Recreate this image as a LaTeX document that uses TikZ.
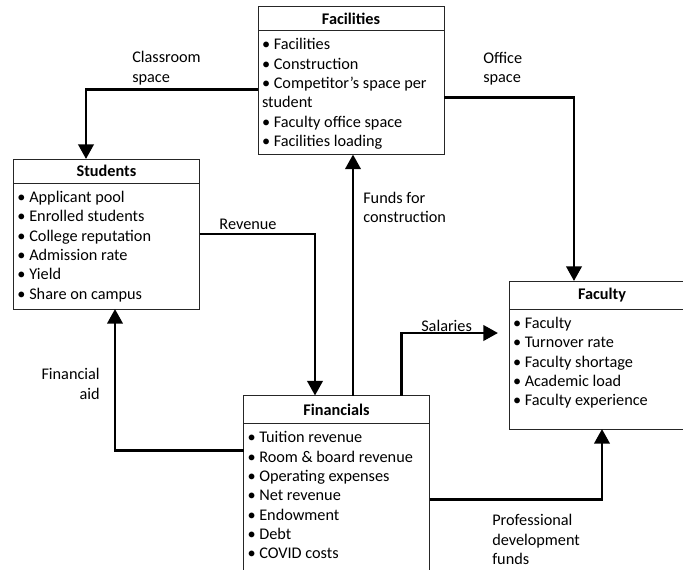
\documentclass[tikz,border=0pt]{standalone}
\usepackage{fontspec}
\setmainfont{Carlito}
\usetikzlibrary{calc,arrows.meta,positioning}

% bullet list of a box, fixed height, first baseline fixed
\newcommand{\blist}[2]{\parbox[t][#1][t]{133.5pt}{\raggedright\rule{0pt}{14.5pt}#2}}

\begin{document}
\begin{tikzpicture}[x=0.75pt,y=-0.75pt,
  every node/.style={font=\fontsize{12.2}{14.5}\selectfont},
  head/.style={draw=black!85,line width=0.7pt,minimum width=139.5pt,
    inner sep=0pt,outer sep=0pt,font=\fontsize{12.2}{14.5}\selectfont\bfseries},
  body/.style={draw=black!85,line width=0.7pt,inner xsep=3pt,inner ysep=0pt,
    outer sep=0pt},
  flow/.style={line width=2.2pt,-{Triangle[width=11.5pt,length=11pt]}},
  lbl/.style={align=left,inner sep=0pt}]
  \clip (0,0) rectangle (683,569);
  % boxes
  \node[head,minimum height=18pt] (facT) at (351,18.5) {Facilities};
  \node[body,below=0pt of facT] (fac) {\blist{93pt}{• Facilities\\• Construction\\• Competitor’s space per\\student\\• Faculty office space\\• Facilities loading}};
  \node[head,minimum height=18pt] (stuT) at (106.5,171) {Students};
  \node[body,below=0pt of stuT] (stu) {\blist{94.5pt}{• Applicant pool\\• Enrolled students\\• College reputation\\• Admission rate\\• Yield\\• Share on campus}};
  \node[head,minimum height=21pt] (facuT) at (602,295) {Faculty};
  \node[body,below=0pt of facuT] (facu) {\blist{90pt}{• Faculty\\• Turnover rate\\• Faculty shortage\\• Academic load\\• Faculty experience}};
  \node[head,minimum height=21pt] (finT) at (336.5,409.5) {Financials};
  \node[body,below=0pt of finT] (fin) {\blist{150pt}{• Tuition revenue\\• Room \& board revenue\\• Operating expenses\\• Net revenue\\• Endowment\\• Debt\\• COVID costs}};
  % labels
  \node[lbl,anchor=west] (lclass) at (132,68) {Classroom\\space};
  \node[lbl,anchor=west] (loffice) at (483,69) {Office\\space};
  \node[lbl] (lrev) at (248,224) {Revenue};
  \node[lbl,anchor=west] (lfunds) at (363,207.5) {Funds for\\construction};
  \node[lbl,anchor=west] (lsal) at (421,326) {Salaries};
  \node[lbl,anchor=east,align=right] (laid) at (100,384) {Financial\\aid};
  \node[lbl,anchor=west] (lprof) at (492,539.5) {Professional\\development\\funds};
  % flows
  \draw[flow] ($(fac.west)+(0,-3)$) -| ($(stuT.north)+(-20.5,0)$);
  \draw[flow] ($(fac.east)+(0,5)$) -| ($(facuT.north)+(-28,0)$);
  \draw[flow] ($(stu.east)+(0,-12)$) -| ($(finT.north)+(-21.5,0)$);
  \coordinate (fc) at ($(finT.north)+(16.5,0)$);
  \draw[flow] (fc) -- (fc |- fac.south);
  \coordinate (sa) at ($(finT.north)+(65,0)$);
  \draw[flow] (sa) |- ($(facu.west)+(-11,-36)$);
  \draw[flow] ($(fin.north west)+(0,27)$) -| ($(stu.south)+(8.5,0)$);
  \draw[flow] ($(fin.north east)+(0,76)$) -| (facu.south);
\end{tikzpicture}
\end{document}
